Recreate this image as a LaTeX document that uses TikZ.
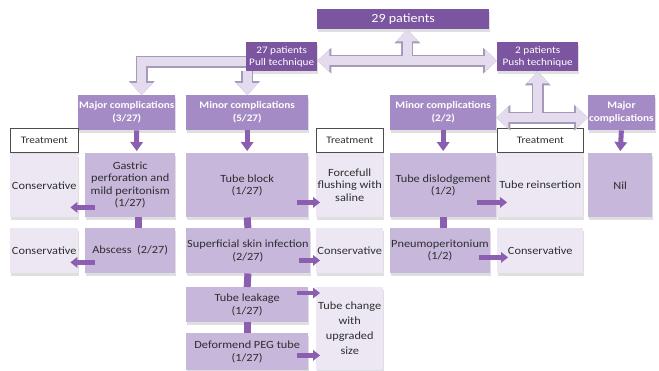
\documentclass[tikz,border=0pt]{standalone}
\usepackage{fontspec}
\setmainfont{Carlito}[FakeStretch=1.12]
\usetikzlibrary{arrows.meta,shadows}

\definecolor{pdark}{HTML}{7B559F}
\definecolor{phead}{HTML}{A58BC5}
\definecolor{pmid}{HTML}{C6B7DB}
\definecolor{plight}{HTML}{ECE7F3}
\definecolor{parrow}{HTML}{8B5EAF}
\definecolor{hfill}{HTML}{E4DBEF}
\definecolor{hedge}{HTML}{A59BB8}
\definecolor{txt}{HTML}{2E2E2E}

\tikzset{
  box/.style={anchor=north west, inner sep=1pt, align=center, text=txt,
    font=\fontsize{11}{12.5}\selectfont,
    drop shadow={shadow xshift=1pt,shadow yshift=-3pt,opacity=.25}},
  topbox/.style={box, fill=pdark, text=white, font=\fontsize{10}{12.5}\selectfont},
  headbox/.style={box, fill=phead, text=white, font=\bfseries\fontsize{10}{13}\selectfont},
  midbox/.style={box, fill=pmid},
  lightbox/.style={box, fill=plight},
  treatbox/.style={box, fill=white, draw=black!70, line width=0.8pt},
  hollowline/.style={draw=hedge, line width=12pt, line join=miter,
    >={Triangle[length=14pt,width=26pt,line width=0pt]}},
  hollowfill/.style={draw=hfill, line width=9pt, line join=miter,
    >={Triangle[length=12pt,width=22pt,line width=0pt]}},
  darrow/.style={draw=parrow, line width=5pt, shorten >=2pt,
    -{Triangle[length=9pt,width=13pt,line width=0pt]}},
  sarrow/.style={draw=parrow, line width=4.5pt,
    -{Triangle[length=7pt,width=11pt,line width=0pt]}},
  link/.style={draw=parrow, line width=7pt},
}

\begin{document}
\begin{tikzpicture}[x=1pt,y=-1pt]
\useasboundingbox (0,0) rectangle (659,370);

% top level
\node[topbox, font=\fontsize{12.5}{15}\selectfont, minimum width=172pt, minimum height=20pt] (p29) at (317,9) {29 patients};
\node[topbox, minimum width=71pt, minimum height=29pt] (p27) at (246,42) {27 patients\\Pull technique};
\node[topbox, minimum width=81pt, minimum height=29pt] (p2) at (497,42) {2 patients\\Push technique};

% complications
\node[headbox, minimum width=97pt, minimum height=35pt] (majA) at (78,95) {Major complications\\(3/27)};
\node[headbox, minimum width=122pt, minimum height=35pt] (minA) at (186,95) {Minor complications\\(5/27)};
\node[headbox, minimum width=106pt, minimum height=35pt] (minC) at (390,95) {Minor complications\\(2/2)};
\node[headbox, minimum width=66pt, minimum height=35pt] (majD) at (588,95) {Major\\complications};

% treatment headers
\node[treatbox, font=\fontsize{10}{12}\selectfont, minimum width=68pt, minimum height=24pt] (treat1) at (10,128) {Treatment};
\node[treatbox, font=\fontsize{10}{12}\selectfont, minimum width=67pt, minimum height=24pt] (treat2) at (316,128) {Treatment};
\node[treatbox, font=\fontsize{10}{12}\selectfont, minimum width=86pt, minimum height=24pt] (treat3) at (497,128) {Treatment};

% first row
\node[lightbox, minimum width=68pt, minimum height=63pt] (cons1) at (10,154) {Conservative};
\node[midbox, minimum width=90pt, minimum height=64pt] (gastric) at (85,153) {Gastric\\perforation and\\mild peritonism\\(1/27)};
\node[midbox, minimum width=122pt, minimum height=64pt] (tubeblock) at (186,153) {Tube block\\(1/27)};
\node[lightbox, minimum width=67pt, minimum height=64pt] (flush) at (316,153) {Forcefull\\flushing with\\saline};
\node[midbox, minimum width=106pt, minimum height=64pt] (tubedis) at (390,153) {Tube dislodgement\\(1/2)};
\node[lightbox, minimum width=86pt, minimum height=64pt] (reinsert) at (497,153) {Tube reinsertion};
\node[midbox, minimum width=64pt, minimum height=64pt] (nil) at (588,153) {Nil};

% second row
\node[lightbox, minimum width=68pt, minimum height=45pt] (cons2) at (10,228) {Conservative};
\node[midbox, minimum width=90pt, minimum height=45pt] (abscess) at (85,228) {Abscess~~(2/27)};
\node[midbox, minimum width=122pt, minimum height=45pt] (superf) at (186,228) {Superficial skin infection\\(2/27)};
\node[lightbox, minimum width=67pt, minimum height=45pt] (cons3) at (316,228) {Conservative};
\node[midbox, minimum width=99pt, minimum height=45pt] (pneumo) at (390,228) {Pneumoperitonium\\(1/2)};
\node[lightbox, minimum width=86pt, minimum height=45pt] (cons4) at (497,228) {Conservative};

% lower rows
\node[midbox, minimum width=122pt, minimum height=35pt] (leak) at (186,287) {Tube leakage\\(1/27)};
\node[midbox, minimum width=122pt, minimum height=37pt] (deform) at (186,333) {Deformend PEG tube\\(1/27)};
\node[lightbox, font=\fontsize{11}{15}\selectfont, minimum width=67pt, minimum height=83pt] (change) at (316,287) {Tube change\\with\\upgraded\\size};

% hollow arrows
\coordinate (j1) at ([xshift=90pt,yshift=-4pt]p27.east);
\coordinate (j2) at ([yshift=-5pt]minC.east);
\draw[hollowline,<->] ([yshift=-4pt]p27.east) -- ([yshift=-4pt]p2.west);
\draw[hollowline,->] ([yshift=-5pt]p27.west) -| ([xshift=15pt]majA.north);
\draw[hollowline,->] (minA.north |- p27.south) -- (minA.north);
\draw[hollowline,<->] (j2) -- (j2 -| majD.west);
\draw[hollowline,->] (j1) -- (j1 |- p29.south);
\draw[hollowline,->] (j2 -| p2.south) -- (p2.south);
\draw[hollowfill,<->] ([yshift=-4pt]p27.east) -- ([yshift=-4pt]p2.west);
\draw[hollowfill,->] ([yshift=-5pt]p27.west) -| ([xshift=15pt]majA.north);
\draw[hollowfill,->] (minA.north |- p27.south) -- (minA.north);
\draw[hollowfill,<->] (j2) -- (j2 -| majD.west);
\draw[hollowfill,->] (j1) -- (j1 |- p29.south);
\draw[hollowfill,->] (j2 -| p2.south) -- (p2.south);

% down arrows
\draw[darrow] ([xshift=10pt]majA.south) -- ([xshift=6.5pt]gastric.north);
\draw[darrow] (minA.south) -- (tubeblock.north);
\draw[darrow] (minC.south) -- (tubedis.north);
\draw[darrow] (majD.south) -- (nil.north);

% links
\draw[link] ([xshift=8pt]gastric.south) -- ([xshift=8pt]abscess.north);
\draw[link] (tubeblock.south) -- (superf.north);
\draw[link] (superf.south) -- (leak.north);
\draw[link] (leak.south) -- (deform.north);
\draw[link] (tubedis.south) -- (tubedis.south |- pneumo.north);

% side arrows
\draw[sarrow] ([xshift=10pt,yshift=10pt]gastric.south west) -- ([xshift=-8pt,yshift=10pt]cons1.south east);
\draw[sarrow] ([xshift=10pt,yshift=11pt]abscess.south west) -- ([xshift=-8pt,yshift=11pt]cons2.south east);
\draw[sarrow] ([xshift=-11pt,yshift=15pt]tubeblock.south east) -- ([xshift=4pt,yshift=15pt]flush.south west);
\draw[sarrow] ([xshift=-11pt,yshift=13pt]superf.south east) -- ([xshift=4pt,yshift=13pt]cons3.south west);
\draw[sarrow] ([xshift=-11pt,yshift=-6pt]leak.north east) -- ([xshift=4pt,yshift=-6pt]change.north west);
\draw[sarrow] ([xshift=-11pt,yshift=15pt]deform.south east) -- ([xshift=4pt,yshift=15pt]change.south west);
\draw[sarrow] ([xshift=-19pt,yshift=15pt]tubedis.south east) -- ([xshift=10pt,yshift=15pt]reinsert.south west);
\draw[sarrow] ([xshift=-11pt,yshift=16pt]pneumo.south east) -- ([xshift=11pt,yshift=16pt]cons4.south west);
\end{tikzpicture}
\end{document}
